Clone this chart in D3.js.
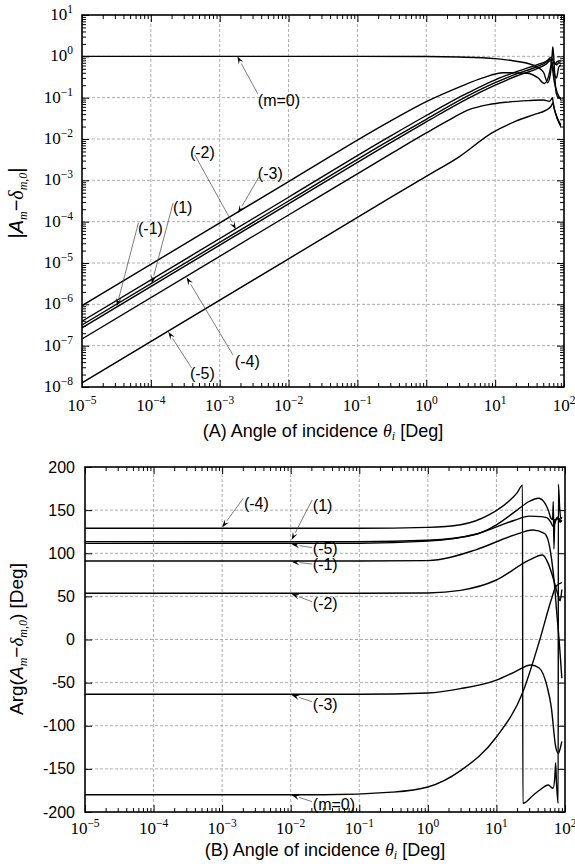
<!DOCTYPE html>
<html><head><meta charset="utf-8">
<script src="https://cdn.jsdelivr.net/npm/d3@7"></script>
<style>
body{margin:0;background:#fff;}
svg text{font-family:"Liberation Sans",Arial,sans-serif;fill:#000;}
.serif{font-family:"Liberation Serif","Times New Roman",serif;}
</style></head><body><div id="c"></div>
<script>
// ---- (A) |A_m - delta_m0| vs angle (deg)
var ampM0 = [[1e-5,1],[0.1,1],[1,0.99],[3,0.96],[10,0.88],[18,0.78],[35,0.62],[50,0.42],[58,0.23],[63,0.35],[66,0.6],[72,0.72],[78,0.62],[84,0.7],[90,0.66]];
var ampN3 = [[1e-5,9.3e-7],[1e-2,9.3e-4],[0.3,0.027],[1,0.08],[3,0.18],[6.6,0.3],[13,0.4],[29,0.39],[42,0.3],[52,0.22],[62,0.42],[67,1.0],[69,1.7],[72,0.6],[77,0.13],[83,0.1],[90,0.1]];
var ampN2 = [[1e-5,3.9e-7],[1e-2,3.9e-4],[0.3,0.0117],[1,0.037],[4,0.13],[10,0.27],[20,0.42],[40,0.62],[55,0.75],[63,0.85],[68,0.65],[72,0.4],[78,0.3],[84,0.55],[90,0.62]];
var ampP1 = [[1e-5,3.16e-7],[1e-2,3.16e-4],[0.3,0.0095],[1,0.03],[4,0.11],[10,0.23],[20,0.37],[40,0.56],[55,0.72],[65,0.95],[69,0.8],[74,0.65],[80,0.75],[90,0.78]];
var ampN1 = [[1e-5,2.7e-7],[1e-2,2.7e-4],[0.3,0.0081],[1,0.026],[4,0.095],[10,0.2],[20,0.33],[40,0.5],[55,0.65],[64,0.8],[68,0.5],[72,0.25],[80,0.13],[90,0.09]];
var ampN4 = [[1e-5,1.45e-7],[1e-2,1.45e-4],[0.3,0.0043],[1,0.014],[2,0.027],[4,0.05],[8,0.068],[15,0.078],[30,0.085],[50,0.088],[62,0.082],[68,0.1],[70,0.07],[76,0.04],[84,0.025],[90,0.02]];
var ampN5 = [[1e-5,1.26e-8],[1e-2,1.26e-5],[0.3,3.8e-4],[1,1.25e-3],[3,3.7e-3],[9,0.014],[20,0.027],[35,0.038],[55,0.05],[65,0.062],[69,0.075],[72,0.055],[80,0.032],[90,0.022]];

// ---- (B) Arg(A_m - delta_m0) vs angle (deg)
var argM0 = [[1e-5,-180],[0.03,-180],[0.3,-177],[1,-171],[3,-152],[10,-113],[24,-62],[43,0],[63,46],[73,61],[80,64],[90,66]];
var argN4 = [[1e-5,129],[0.1,129],[1,130],[3,133],[8,145],[15,160],[20,170],[24,179],[24.3,-190],[35,-180],[43,-174.5],[57,-168.7],[67,-172.5],[71,-160],[73,-143],[75,-165],[79.5,-190],[80,180],[84,150],[87,140],[90,142]];
var argP1 = [[1e-5,113.5],[0.1,113.5],[1,115],[5,122],[10,133],[20,150],[30,160],[41,163.7],[50,159],[57,150],[62,141],[66,139],[67.5,160],[69,105],[71,139],[80,140],[85,136],[90,138]];
var argN5 = [[1e-5,111.5],[0.1,111.6],[1,114],[5,122],[18,138],[30,143],[45,142.5],[55,141],[62,136],[67,131],[72,136],[78,142],[84,139],[90,137]];
var argN1 = [[1e-5,91],[0.1,91],[1,91.5],[5,104],[18,121],[34,127],[50,123],[58,112],[64,92],[70,65],[76,30],[82,0],[90,-45]];
var argN2 = [[1e-5,53.6],[0.1,53.6],[1,54],[3,57],[10,69],[30,92],[47,98],[57,88],[65,75],[73,61],[80,50],[85,45],[90,58]];
var argN3 = [[1e-5,-63.5],[0.1,-63.4],[1,-62],[3,-57],[10,-47],[18,-38],[32,-29.6],[42,-33],[55,-55],[63,-78],[73,-124],[80,-132],[84,-128],[90,-118]];

var ampSeries = [ampM0, ampN3, ampN2, ampP1, ampN1, ampN4, ampN5];
var argSeries = [argM0, argN4, argP1, argN5, argN1, argN2, argN3];

// tick values
var xExps = [-5,-4,-3,-2,-1,0,1,2];
var ampExps = [-8,-7,-6,-5,-4,-3,-2,-1,0,1];
var argTicks = [-200,-150,-100,-50,0,50,100,150,200];

// labels with arrows: tip on curve, tail of arrow, left-middle of text
var ampNotes = [
	{label:"(m=0)", tip:[1.8e-3,1], tail:[3.58e-3,0.123], text:[3.58e-3,0.0877]},
	{label:"(-2)", tip:[1.72e-3,6.5e-5], tail:[4.36e-4,4.1e-3], text:[3.69e-4,4.84e-3]},
	{label:"(-3)", tip:[1.84e-3,1.6e-4], tail:[3.7e-3,1.2e-3], text:[3.58e-3,1.5e-3]},
	{label:"(1)", tip:[1.03e-4,3.2e-6], tail:[2.1e-4,2.8e-4], text:[2.09e-4,2.26e-4]},
	{label:"(-1)", tip:[3.2e-5,9.1e-7], tail:[6.6e-5,9.4e-5], text:[6.5e-5,7.0e-5]},
	{label:"(-4)", tip:[3.3e-4,4.5e-6], tail:[1.56e-3,5.9e-8], text:[1.66e-3,4.25e-8]},
	{label:"(-5)", tip:[1.79e-4,2.17e-7], tail:[3.9e-4,2.9e-8], text:[3.69e-4,2.18e-8]}
];
var argNotes = [
	{label:"(-4)", tip:[1e-3,130], tail:[2.03e-3,163.7], text:[2.08e-3,157.7]},
	{label:"(1)", tip:[0.0103,115.4], tail:[0.0205,161.7], text:[0.021,156]},
	{label:"(-5)", tip:[0.0103,110.4], tail:[0.0205,106.5], text:[0.021,106]},
	{label:"(-1)", tip:[0.0103,90.2], tail:[0.0205,87.5], text:[0.021,87]},
	{label:"(-2)", tip:[0.0103,52.8], tail:[0.0205,43.8], text:[0.021,42]},
	{label:"(-3)", tip:[0.0103,-64.3], tail:[0.0205,-72.1], text:[0.021,-74.8]},
	{label:"(m=0)", tip:[0.0103,-180.3], tail:[0.0205,-188], text:[0.021,-190.7]}
];

var width = 575, height = 864;
var svg = d3.select("#c").append("svg")
	.attr("width", width)
	.attr("height", height);

var ax = d3.scaleLog().domain([1e-5, 1e2]).range([82, 564]);
var ay = d3.scaleLog().domain([1e-8, 1e1]).range([387, 15]);
var bx = d3.scaleLog().domain([1e-5, 1e2]).range([85, 565]);
var by = d3.scaleLinear().domain([-200, 200]).range([812, 467]);

var xMajors = xExps.map(function(e) { return Math.pow(10, e); });
var ampMajors = ampExps.map(function(e) { return Math.pow(10, e); });

function minorsOf(exps) {
	var out = [];
	for (var i = 0; i < exps.length - 1; i++) {
		for (var k = 2; k <= 9; k++) out.push(k * Math.pow(10, exps[i]));
	}
	return out;
}

function frame(g, x, y, xMaj, xMin, yMaj, yMin, id) {
	var x0 = x.range()[0], x1 = x.range()[1];
	var y0 = y.range()[0], y1 = y.range()[1];

	// grid
	g.append("g").selectAll("line").data(xMaj.slice(1, -1)).enter().append("line")
		.attr("x1", function(d) { return x(d); }).attr("x2", function(d) { return x(d); })
		.attr("y1", y0).attr("y2", y1)
		.attr("stroke", "#999").attr("stroke-width", 0.8).attr("stroke-dasharray", "3,2");
	g.append("g").selectAll("line").data(yMaj.slice(1, -1)).enter().append("line")
		.attr("y1", function(d) { return y(d); }).attr("y2", function(d) { return y(d); })
		.attr("x1", x0).attr("x2", x1)
		.attr("stroke", "#999").attr("stroke-width", 0.8).attr("stroke-dasharray", "3,2");

	// inward ticks on all sides
	var axes = [
		[d3.axisBottom(x), "translate(0," + y0 + ")", xMaj, xMin],
		[d3.axisTop(x), "translate(0," + y1 + ")", xMaj, xMin],
		[d3.axisLeft(y), "translate(" + x0 + ",0)", yMaj, yMin],
		[d3.axisRight(y), "translate(" + x1 + ",0)", yMaj, yMin]
	];
	axes.forEach(function(a) {
		var big = g.append("g").attr("transform", a[1])
			.call(a[0].tickValues(a[2]).tickSize(-7).tickFormat(""));
		big.select(".domain").remove();
		if (a[3].length) {
			var sm = g.append("g").attr("transform", a[1])
				.call(a[0].tickValues(a[3]).tickSize(-4).tickFormat(""));
			sm.select(".domain").remove();
		}
	});
	g.selectAll(".tick line").attr("stroke", "#000").attr("stroke-width", 1);

	g.append("clipPath").attr("id", id).append("rect")
		.attr("x", x0).attr("y", y1).attr("width", x1 - x0).attr("height", y0 - y1);
}

function border(g, x, y) {
	var x0 = x.range()[0], x1 = x.range()[1];
	var y0 = y.range()[0], y1 = y.range()[1];
	g.append("rect").attr("x", x0).attr("y", y1).attr("width", x1 - x0).attr("height", y0 - y1)
		.attr("fill", "none").attr("stroke", "#000").attr("stroke-width", 1.6);
}

function powLabel(g, px, py, e, anchor) {
	var t = g.append("text").attr("class", "serif").attr("x", px).attr("y", py)
		.attr("text-anchor", anchor).attr("font-size", 17);
	t.append("tspan").text("10");
	t.append("tspan").attr("dy", -7).attr("font-size", 11.5).text(e < 0 ? "\u2212" + (-e) : "" + e);
}

function curves(g, x, y, series, id) {
	var line = d3.line()
		.x(function(d) { return x(d[0]); })
		.y(function(d) { return y(d[1]); })
		.curve(d3.curveMonotoneX);
	g.append("g").attr("clip-path", "url(#" + id + ")")
		.selectAll("path").data(series).enter().append("path")
		.attr("d", line)
		.attr("fill", "none").attr("stroke", "#000").attr("stroke-width", 1.4);
}

function notes(g, x, y, list) {
	list.forEach(function(a) {
		var tx = x(a.tip[0]), ty = y(a.tip[1]);
		var sx = x(a.tail[0]), sy = y(a.tail[1]);
		var ang = Math.atan2(ty - sy, tx - sx);
		var L = 8, W = 2.6;
		var bx0 = tx - L * Math.cos(ang), by0 = ty - L * Math.sin(ang);
		g.append("line").attr("x1", sx).attr("y1", sy).attr("x2", bx0).attr("y2", by0)
			.attr("stroke", "#444").attr("stroke-width", 0.7);
		var p = [
			[tx, ty],
			[bx0 + W * Math.sin(ang), by0 - W * Math.cos(ang)],
			[tx - 0.6 * L * Math.cos(ang), ty - 0.6 * L * Math.sin(ang)],
			[bx0 - W * Math.sin(ang), by0 + W * Math.cos(ang)]
		];
		g.append("path").attr("d", "M" + p.join("L") + "Z").attr("fill", "#000");
		g.append("text").attr("x", x(a.text[0])).attr("y", y(a.text[1]))
			.attr("dy", "0.35em").attr("font-size", 16).text(a.label);
	});
}

function angleTitle(g, px, py, tag) {
	var t = g.append("text").attr("x", px).attr("y", py).attr("text-anchor", "middle").attr("font-size", 18);
	t.append("tspan").text(tag + " Angle of incidence ");
	t.append("tspan").attr("class", "serif").attr("font-style", "italic").text("\u03b8");
	t.append("tspan").attr("class", "serif").attr("font-style", "italic").attr("font-size", 12).attr("dy", 3).text("i");
	t.append("tspan").attr("dy", -3).text(" [Deg]");
}

function ampTitle(t, before, after) {
	t.append("tspan").text(before);
	t.append("tspan").attr("font-style", "italic").text("A");
	t.append("tspan").attr("class", "serif").attr("font-style", "italic").attr("font-size", 12).attr("dy", 4).text("m");
	t.append("tspan").attr("dy", -4).text("\u2212");
	t.append("tspan").attr("class", "serif").attr("font-style", "italic").text("\u03b4");
	t.append("tspan").attr("class", "serif").attr("font-style", "italic").attr("font-size", 12).attr("dy", 4).text("m,0");
	t.append("tspan").attr("dy", -4).text(after);
}

// ---------- panel A ----------
var ga = svg.append("g");
frame(ga, ax, ay, xMajors, minorsOf(xExps), ampMajors, minorsOf(ampExps), "clipA");
curves(ga, ax, ay, ampSeries, "clipA");
notes(ga, ax, ay, ampNotes);
border(ga, ax, ay);

xExps.forEach(function(e) { powLabel(ga, ax(Math.pow(10, e)), 411, e, "middle"); });
ampExps.forEach(function(e) { powLabel(ga, 73, ay(Math.pow(10, e)) + 5, e, "end"); });

angleTitle(ga, 323, 437, "(A)");
ampTitle(ga.append("text").attr("transform", "translate(23,203) rotate(-90)")
	.attr("text-anchor", "middle").attr("font-size", 20), "|", "|");

// ---------- panel B ----------
var gb = svg.append("g");
frame(gb, bx, by, xMajors, minorsOf(xExps), argTicks, [], "clipB");
curves(gb, bx, by, argSeries, "clipB");
notes(gb, bx, by, argNotes);
border(gb, bx, by);

xExps.forEach(function(e) { powLabel(gb, bx(Math.pow(10, e)), 834, e, "middle"); });
argTicks.forEach(function(v) {
	gb.append("text").attr("x", 75).attr("y", by(v) + 5.5).attr("text-anchor", "end")
		.attr("font-size", 16).text(v);
});

angleTitle(gb, 325, 856, "(B)");
ampTitle(gb.append("text").attr("transform", "translate(23,639) rotate(-90)")
	.attr("text-anchor", "middle").attr("font-size", 19), "Arg(", ") [Deg]");
</script></body></html>
